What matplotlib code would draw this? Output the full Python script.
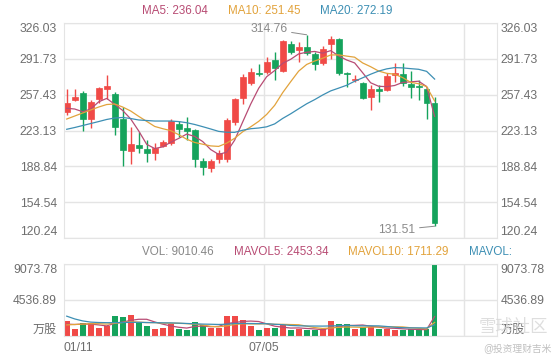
import numpy as np
import pandas as pd
import matplotlib
matplotlib.use("Agg")
import matplotlib.pyplot as plt

# candle data
opens = [241.1, 252.3, 258.7, 233.9, 253.0, 262.9, 258.1, 233.9, 203.8, 209.2,
         205.4, 201.9, 208.3, 210.9, 229.1, 225.2, 223.6, 193.9, 187.0, 195.6,
         195.6, 231.6, 254.0, 268.3, 277.9, 278.8, 290.6, 280.1, 305.9, 300.2,
         302.8, 296.4, 287.4, 305.6, 310.7, 278.5, 271.5, 268.3, 255.5, 262.6,
         261.9, 276.3, 277.2, 267.4, 265.7, 262.6, 249.7]
highs = [262.9, 262.6, 260.9, 252.3, 264.8, 276.3, 260.3, 245.9, 226.8, 222.0,
         214.0, 211.2, 214.0, 233.9, 232.2, 236.3, 224.2, 196.5, 195.6, 204.5,
         234.8, 254.2, 276.9, 283.2, 286.5, 293.2, 298.6, 309.5, 309.1, 308.1,
         314.76, 298.3, 304.0, 313.5, 312.0, 279.4, 276.3, 269.6, 266.7, 266.7,
         277.9, 288.0, 288.0, 280.1, 271.5, 264.8, 255.5]
lows = [238.0, 251.4, 222.9, 225.5, 249.4, 253.3, 218.8, 189.1, 191.0, 201.6,
        193.3, 194.9, 207.5, 209.2, 217.2, 214.0, 188.2, 180.5, 183.7, 191.7,
        193.3, 228.4, 248.5, 266.7, 275.6, 276.9, 271.5, 278.8, 296.4, 289.0,
        295.4, 281.0, 285.8, 291.3, 276.3, 264.5, 269.8, 253.3, 242.7, 250.7,
        260.9, 269.8, 265.7, 254.0, 252.3, 233.9, 131.51]
closes = [249.7, 255.2, 233.9, 250.7, 263.5, 266.0, 226.8, 204.5, 210.2, 206.1,
          201.9, 206.7, 212.4, 232.2, 224.6, 222.6, 195.6, 187.9, 193.9, 201.3,
          233.2, 253.3, 274.6, 279.4, 276.9, 289.0, 282.7, 309.1, 298.6, 302.8,
          297.0, 286.5, 300.9, 310.7, 277.9, 277.2, 272.4, 254.0, 262.6, 261.2,
          275.3, 277.9, 268.9, 265.1, 264.5, 249.7, 134.9]
volumes = [1890, 840, 1680, 1600, 970, 1260, 2520, 2430, 2650, 1680,
           1260, 840, 1050, 1510, 840, 760, 1800, 1390, 1050, 1050,
           2520, 2520, 2020, 1300, 760, 1050, 1050, 1390, 760, 840,
           700, 760, 880, 1930, 1510, 1510, 880, 1100, 1150, 940,
           900, 760, 780, 860, 780, 840, 9010.46]

# moving-average values before a full window exists
ma5_head = [244.4, 243.7, 241.1, 243.7]
ma10_head = [234.1, 237.0, 239.9, 242.8, 245.6, 248.0, 248.5, 245.6, 241.8]
ma20_head = [224.3, 226.0, 227.9, 229.8, 231.7, 233.7, 235.1, 235.6, 234.6, 233.2,
             232.7, 232.2, 232.2, 232.2, 231.7, 230.6, 228.9, 226.8, 224.6]
mavol5_head = [1500, 1450, 1500, 1500]
mavol10_head = [1400, 1450, 1500, 1550, 1550, 1500, 1600, 1700, 1800]
mavol20_head = [2500, 2150, 1900, 1750, 1700, 1680, 1680, 1700, 1720, 1720,
                1700, 1680, 1660, 1650, 1620, 1580, 1540, 1500, 1480]

# header readings shown on the chart
ma_last = {"MA5": 236.04, "MA10": 251.45, "MA20": 272.19}
vol_last = {"VOL": 9010.46, "MAVOL5": 2453.34, "MAVOL10": 1711.29}

price_ticks = [120.24, 154.54, 188.84, 223.13, 257.43, 291.73, 326.03]
price_labels = ["120.24", "154.54", "188.84", "223.13", "257.43", "291.73", "326.03"]
vol_ticks = [0, 4536.89, 9073.78]
vol_labels = ["万股", "4536.89", "9073.78"]
date_pos = [-0.34, 24.66]
date_labels = ["01/11", "07/05"]

RED = "#f04a47"
GREEN = "#15a35c"
C5 = "#b84c74"
C10 = "#e2a33c"
C20 = "#3d8fb4"
GRID = "#e4e4e4"
TXT = "#6e6e6e"
FONT = ["Liberation Sans", "Noto Sans CJK SC"]

plt.rcParams["font.family"] = FONT

def with_head(series, window, head):
    out = series.rolling(window).mean().to_numpy()
    out[:len(head)] = head
    return out

cs = pd.Series(closes)
vs = pd.Series(volumes, dtype=float)
ma5 = with_head(cs, 5, ma5_head)
ma10 = with_head(cs, 10, ma10_head)
ma20 = with_head(cs, 20, ma20_head)
mv5 = with_head(vs, 5, mavol5_head)
mv10 = with_head(vs, 10, mavol10_head)
mv20 = with_head(vs, 20, mavol20_head)

x = np.arange(len(closes))
up = np.array(closes) >= np.array(opens)
colors = [RED if u else GREEN for u in up]

fig = plt.figure(figsize=(5.6, 3.6), dpi=100)
ax = fig.add_axes([64 / 560, 1 - 238 / 360, 433 / 560, 215 / 360])
axv = fig.add_axes([64 / 560, 1 - 336 / 360, 433 / 560, 72 / 360])

xmin, xmax = -0.34, 53.8


def style(a, ticks, labels, ylim):
    a.set_xlim(xmin, xmax)
    a.set_ylim(*ylim)
    a.set_yticks(ticks)
    a.set_yticklabels(labels)
    a.tick_params(axis="y", length=0, pad=5, labelsize=8.7, labelcolor=TXT)
    a.grid(axis="y", color=GRID, lw=1)
    for g in [24.66, 49.66]:
        a.axvline(g, color=GRID, lw=1, zorder=0)
    for s in a.spines.values():
        s.set_color(GRID)
    a.set_axisbelow(True)
    r = a.twinx()
    r.set_ylim(*ylim)
    r.set_yticks(ticks)
    r.set_yticklabels(labels)
    r.tick_params(axis="y", length=0, pad=2.5, labelsize=8.7, labelcolor=TXT)
    for s in r.spines.values():
        s.set_visible(False)
    for lab_set in [a.get_yticklabels(), r.get_yticklabels()]:
        lab_set[0].set_va("bottom")
        lab_set[-1].set_va("top")
    return r


style(ax, price_ticks, price_labels, (120.24, 326.03))
ax.set_xticks([])
style(axv, vol_ticks, vol_labels, (0, 9073.78))

# candles
ax.vlines(x, lows, highs, colors=colors, lw=1, zorder=2)
bottoms = np.minimum(opens, closes)
heights = np.abs(np.array(closes) - np.array(opens))
ax.bar(x, heights, bottom=bottoms, width=0.72, color=colors,
       edgecolor=colors, linewidth=0.5, zorder=2)
ax.plot(x, ma5, color=C5, lw=0.9, zorder=3)
ax.plot(x, ma10, color=C10, lw=0.9, zorder=3)
ax.plot(x, ma20, color=C20, lw=0.9, zorder=3)

ax.annotate("314.76", xy=(30, 314.76), xytext=(27.6, 320.3), ha="right", va="center",
            fontsize=8.7, color="#8a8a8a",
            arrowprops=dict(arrowstyle="-", color="#8a8a8a", lw=0.7, shrinkA=1, shrinkB=0))
ax.annotate("131.51", xy=(46, 131.51), xytext=(43.6, 127.9), ha="right", va="center",
            fontsize=8.7, color="#8a8a8a",
            arrowprops=dict(arrowstyle="-", color="#8a8a8a", lw=0.7, shrinkA=1, shrinkB=0))

# volume
axv.bar(x, volumes, width=0.72, color=colors, zorder=2)
axv.plot(x, mv5, color=C5, lw=0.9, zorder=3)
axv.plot(x, mv10, color=C10, lw=0.9, zorder=3)
axv.plot(x, mv20, color=C20, lw=0.9, zorder=3)
axv.set_xticks(date_pos)
axv.set_xticklabels(date_labels)
axv.tick_params(axis="x", length=0, pad=4, labelsize=8.7, labelcolor=TXT)
axv.get_xticklabels()[0].set_ha("left")

# headers
fs = 8.4
fig.text(142.5 / 560, 1 - 11 / 360, "MA5: %.2f" % ma_last["MA5"], color=C5, fontsize=fs, va="center")
fig.text(227.5 / 560, 1 - 11 / 360, "MA10: %.2f" % ma_last["MA10"], color=C10, fontsize=fs, va="center")
fig.text(319.5 / 560, 1 - 11 / 360, "MA20: %.2f" % ma_last["MA20"], color=C20, fontsize=fs, va="center")
fig.text(142.5 / 560, 1 - 252 / 360, "VOL: %.2f" % vol_last["VOL"], color="#888888", fontsize=fs, va="center")
fig.text(234 / 560, 1 - 252 / 360, "MAVOL5: %.2f" % vol_last["MAVOL5"], color=C5, fontsize=fs, va="center")
fig.text(348.5 / 560, 1 - 252 / 360, "MAVOL10: %.2f" % vol_last["MAVOL10"], color=C10, fontsize=fs, va="center")
fig.text(469 / 560, 1 - 252 / 360, "MAVOL:", color=C20, fontsize=fs, va="center")

# watermark
fig.text(548 / 560, 1 - 327 / 360, "雪球社区", color="#d6d6d6", fontsize=12.5, ha="right",
         va="center", alpha=0.8)
fig.text(552 / 560, 1 - 348 / 360, "@投资理财吉米", color="#c0c0c0", fontsize=7, ha="right",
         va="center")

fig.savefig("out.png", dpi=100)
